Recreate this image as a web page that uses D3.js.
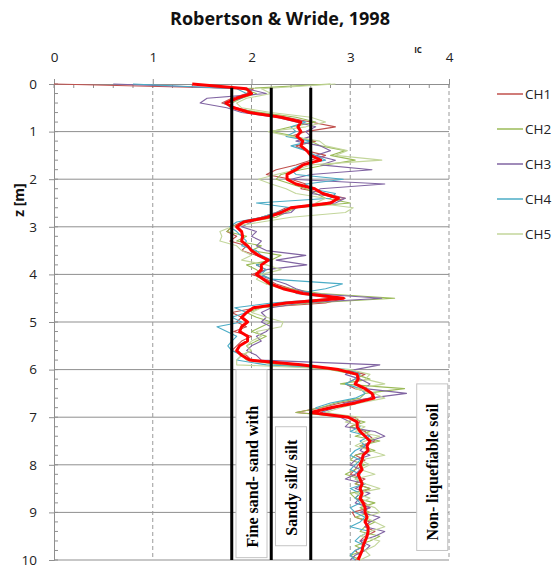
<!DOCTYPE html>
<html>
<head>
<meta charset="utf-8">
<script src="https://cdn.jsdelivr.net/npm/d3@7"></script>
<style>
  body { margin: 0; background: #fff; }
  svg { display: block; }
</style>
</head>
<body>
<svg id="chart" width="557" height="571"></svg>
<script>
// Sampling depths (m)
const depth = [
  0.0, 0.1, 0.2, 0.3, 0.4, 0.5, 0.6, 0.7, 0.8, 0.9,
  1.0, 1.1, 1.2, 1.3, 1.4, 1.5, 1.6, 1.7, 1.8, 1.9,
  2.0, 2.1, 2.2, 2.3, 2.4, 2.5, 2.6, 2.7, 2.8, 2.9,
  3.0, 3.1, 3.2, 3.3, 3.4, 3.5, 3.6, 3.7, 3.8, 3.9,
  4.0, 4.1, 4.2, 4.3, 4.4, 4.5, 4.6, 4.7, 4.8, 4.9,
  5.0, 5.1, 5.2, 5.3, 5.4, 5.5, 5.6, 5.7, 5.8, 5.9,
  6.0, 6.1, 6.2, 6.3, 6.4, 6.5, 6.6, 6.7, 6.8, 6.9,
  7.0, 7.1, 7.2, 7.3, 7.4, 7.5, 7.6, 7.7, 7.8, 7.9,
  8.0, 8.1, 8.2, 8.3, 8.4, 8.5, 8.6, 8.7, 8.8, 8.9,
  9.0, 9.1, 9.2, 9.3, 9.4, 9.5, 9.6, 9.7, 9.8, 9.9,
  10.0
];

// Soil behaviour type index Ic per CPT channel
const ch1 = [
  0.00, 2.02, 1.95, 1.80, 1.70, 1.85, 2.05, 2.35, 2.60, 2.85,
  2.55, 2.40, 2.65, 2.45, 2.55, 2.75, 2.60, 2.45, 2.25, 2.15,
  2.40, 2.55, 2.50, 2.75, 2.95, 2.75, 2.35, 2.25, 2.10, 1.90,
  1.80, 1.75, 1.85, 1.78, 1.95, 1.90, 2.05, 2.20, 2.05, 2.15,
  2.00, 2.15, 2.25, 2.40, 2.60, 2.95, 2.75, 2.05, 1.80, 1.90,
  1.85, 1.95, 1.82, 2.00, 1.90, 1.85, 1.80, 1.95, 2.00, 2.30,
  2.95, 3.15, 3.05, 2.95, 3.05, 3.25, 3.20, 2.90, 2.70, 2.45,
  3.05, 3.10, 3.00, 3.15, 3.20, 3.25, 3.10, 3.20, 3.05, 3.15,
  3.08, 3.05, 3.00, 3.15, 3.05, 3.20, 3.10, 3.05, 3.15, 3.20,
  3.02, 3.05, 3.20, 3.15, 3.25, 3.15, 3.10, 3.15, 3.05, 3.10,
  3.05
];
const ch2 = [
  2.80, 1.90, 2.05, 1.90, 1.80, 1.78, 2.10, 2.45, 2.65, 2.40,
  2.20, 2.45, 2.60, 2.70, 2.95, 2.80, 3.05, 2.75, 2.50, 2.30,
  2.25, 2.40, 2.55, 2.65, 2.75, 3.00, 2.45, 2.35, 2.25, 1.95,
  1.80, 1.75, 1.95, 1.85, 2.10, 2.00, 2.30, 2.20, 1.95, 2.05,
  2.10, 2.20, 2.15, 2.40, 2.70, 3.45, 2.60, 2.10, 1.95, 2.05,
  2.20, 2.10, 2.00, 2.15, 2.05, 1.95, 2.00, 1.90, 1.95, 2.30,
  2.80, 3.05, 3.20, 2.90, 3.55, 3.15, 3.10, 2.85, 2.70, 2.45,
  2.95, 3.15, 3.00, 3.20, 3.05, 3.30, 3.10, 3.25, 3.05, 3.00,
  3.15, 3.05, 2.95, 3.10, 3.05, 3.20, 3.00, 3.05, 3.25, 3.10,
  3.20, 3.05, 3.25, 3.15, 3.10, 3.30, 3.20, 3.05, 3.15, 3.00,
  3.10
];
const ch3 = [
  0.60, 1.95, 2.15, 1.55, 1.48, 1.75, 1.90, 2.25, 2.45, 2.65,
  2.55, 2.60, 2.45, 2.70, 2.80, 2.65, 2.85, 2.70, 3.22, 2.60,
  2.40, 3.35, 2.70, 2.60, 2.95, 2.85, 2.45, 2.40, 2.10, 2.00,
  1.90, 2.05, 2.00, 2.10, 2.05, 2.15, 2.55, 2.25, 2.56, 2.15,
  2.05, 2.20, 2.35, 2.45, 2.60, 3.32, 2.50, 2.20, 2.10, 2.15,
  2.10, 2.20, 2.15, 2.05, 2.10, 2.00, 1.95, 2.05, 2.10, 3.30,
  3.05, 2.95, 3.10, 3.20, 3.15, 3.57, 3.20, 2.95, 2.85, 2.70,
  2.90, 3.00, 2.95, 3.25, 3.35, 3.20, 3.15, 3.10, 3.20, 3.05,
  3.00, 3.10, 3.05, 2.95, 3.15, 3.05, 3.20, 3.10, 3.05, 3.20,
  3.10, 3.30, 3.20, 3.15, 3.35, 3.25, 3.10, 3.20, 3.15, 3.05,
  3.00
];
const ch4 = [
  0.80, 1.85, 1.95, 1.90, 1.72, 1.80, 2.00, 2.30, 2.55, 2.40,
  2.45, 2.35, 2.60, 2.40, 2.55, 2.65, 2.75, 2.50, 2.40, 2.45,
  2.93, 2.55, 2.60, 2.85, 2.80, 2.05, 2.40, 2.25, 2.10, 1.85,
  1.78, 1.85, 1.90, 1.95, 1.90, 2.05, 2.10, 2.20, 2.05, 2.15,
  2.10, 2.20, 2.92, 2.75, 2.45, 2.85, 2.20, 1.83, 1.95, 1.80,
  1.90, 1.65, 1.75, 1.85, 1.80, 1.76, 1.80, 1.90, 1.85, 2.15,
  3.00, 3.10, 3.05, 2.95, 3.10, 3.15, 3.05, 2.80, 2.65, 2.75,
  3.00, 3.05, 3.10, 3.00, 3.20, 3.10, 3.15, 3.05, 3.00, 3.10,
  3.05, 3.00, 3.10, 3.05, 3.15, 3.00, 3.10, 3.05, 3.10, 3.00,
  3.05, 3.15, 3.10, 3.00, 3.20, 3.10, 3.05, 3.15, 3.05, 3.00,
  3.05
];
const ch5 = [
  2.85, 2.10, 2.20, 1.95, 1.85, 1.90, 2.20, 2.60, 2.75, 2.55,
  2.17, 2.40, 2.69, 2.75, 2.97, 2.85, 3.32, 2.60, 2.45, 2.25,
  2.07, 2.20, 2.35, 2.45, 2.75, 2.65, 3.03, 2.95, 2.40, 2.10,
  1.80, 1.68, 1.70, 1.68, 1.85, 1.90, 2.00, 1.90, 2.15, 2.30,
  2.10, 2.05, 2.15, 2.30, 2.50, 2.90, 2.45, 2.10, 2.00, 2.15,
  2.32, 2.30, 2.05, 2.10, 2.00, 1.95, 2.00, 1.90, 1.85, 1.85,
  3.00, 3.20, 3.15, 3.35, 3.05, 3.25, 3.35, 3.10, 2.90, 2.75,
  3.10, 2.95, 3.15, 3.05, 3.30, 3.15, 3.05, 3.20, 3.35, 3.10,
  3.20, 3.10, 3.25, 3.05, 3.15, 3.30, 3.05, 3.20, 3.10, 3.25,
  3.30, 3.15, 3.25, 3.35, 3.20, 3.10, 3.30, 3.25, 3.15, 3.20,
  3.10
];
// Averaged profile (heavy red line)
const meanIc = [
  1.40, 1.95, 2.00, 1.85, 1.74, 1.82, 1.98, 2.30, 2.50, 2.47,
  2.50, 2.46, 2.52, 2.50, 2.56, 2.60, 2.70, 2.52, 2.45, 2.36,
  2.36, 2.45, 2.64, 2.72, 2.88, 2.80, 2.40, 2.30, 2.16, 1.92,
  1.85, 1.90, 1.91, 1.90, 1.96, 2.00, 2.07, 2.17, 2.10, 2.10,
  2.05, 2.12, 2.19, 2.32, 2.52, 2.93, 2.35, 2.02, 1.95, 1.90,
  1.96, 1.90, 1.88, 1.96, 1.96, 1.88, 1.85, 1.90, 1.98, 2.50,
  2.88, 3.07, 3.08, 3.05, 3.15, 3.22, 3.24, 3.05, 2.80, 2.60,
  2.98, 3.07, 3.07, 3.10, 3.15, 3.20, 3.17, 3.18, 3.13, 3.12,
  3.10, 3.12, 3.08, 3.10, 3.12, 3.10, 3.12, 3.10, 3.13, 3.15,
  3.15, 3.17, 3.15, 3.18, 3.18, 3.17, 3.15, 3.13, 3.12, 3.10,
  3.08
];

const seriesNames = ["CH1", "CH2", "CH3", "CH4", "CH5"];
const seriesValues = [ch1, ch2, ch3, ch4, ch5];
const seriesColors = ["#C0504D", "#9BBB59", "#8064A2", "#4BACC6", "#C3D69B"];

const xTicks = [0, 1, 2, 3, 4];
const yTicks = [0, 1, 2, 3, 4, 5, 6, 7, 8, 9, 10];

// Ic boundaries between soil behaviour zones
const zoneBounds = [1.8, 2.2, 2.6];
const zoneLabels = [
  { text: "Fine sand- sand with", ic: 2.0, z0: 6.0, z1: 9.95 },
  { text: "Sandy silt/ silt", ic: 2.4, z0: 7.2, z1: 9.7 },
  { text: "Non- liquefiable soil", ic: 3.83, z0: 6.3, z1: 9.8 }
];

const svg = d3.select("#chart");
const x = d3.scaleLinear().domain([0, 4]).range([54, 449]);
const y = d3.scaleLinear().domain([0, 10]).range([84, 560]);
const font = "'Open Sans', 'Liberation Sans', sans-serif";

// Title
svg.append("text")
  .attr("x", 280).attr("y", 25)
  .attr("text-anchor", "middle")
  .attr("font-family", font)
  .attr("font-weight", "bold")
  .attr("font-size", 18)
  .attr("fill", "#111")
  .text("Robertson & Wride, 1998");

// Horizontal gridlines
svg.append("g").selectAll("line")
  .data(yTicks.filter(d => d > 0))
  .join("line")
  .attr("x1", x(0)).attr("x2", x(4))
  .attr("y1", d => y(d)).attr("y2", d => y(d))
  .attr("stroke", "#8f8f8f").attr("stroke-width", 1);

// Vertical dashed gridlines
svg.append("g").selectAll("line")
  .data(xTicks.filter(d => d > 0))
  .join("line")
  .attr("x1", d => x(d)).attr("x2", d => x(d))
  .attr("y1", y(0)).attr("y2", y(10))
  .attr("stroke", "#9a9a9a").attr("stroke-width", 1)
  .attr("stroke-dasharray", "4,3");

// Minor ticks
const minorX = d3.range(0, 4.001, 0.2);
svg.append("g").selectAll("line")
  .data(minorX)
  .join("line")
  .attr("x1", d => x(d)).attr("x2", d => x(d))
  .attr("y1", y(0)).attr("y2", y(0) + 4)
  .attr("stroke", "#8f8f8f");
const minorY = d3.range(0, 10.001, 0.2);
svg.append("g").selectAll("line")
  .data(minorY)
  .join("line")
  .attr("x1", x(0)).attr("x2", x(0) + 4)
  .attr("y1", d => y(d)).attr("y2", d => y(d))
  .attr("stroke", "#8f8f8f");

// Axes
const topAxis = svg.append("g")
  .attr("transform", `translate(0,${y(0)})`)
  .call(d3.axisTop(x).tickValues(xTicks).tickSize(5).tickPadding(17).tickFormat(d3.format("d")));
const leftAxis = svg.append("g")
  .attr("transform", `translate(${x(0)},0)`)
  .call(d3.axisLeft(y).tickValues(yTicks).tickSize(5).tickPadding(12).tickFormat(d3.format("d")));
[topAxis, leftAxis].forEach(g => {
  g.select(".domain").attr("stroke", "#8f8f8f");
  g.selectAll(".tick line").attr("stroke", "#8f8f8f");
  g.selectAll(".tick text")
    .attr("font-family", font)
    .attr("font-size", 13.5)
    .attr("fill", "#222");
});

// Axis titles
svg.append("text")
  .attr("x", 418).attr("y", 53)
  .attr("text-anchor", "middle")
  .attr("font-family", font)
  .attr("font-size", 8)
  .attr("font-weight", "bold")
  .attr("fill", "#222")
  .text("IC");
svg.append("text")
  .attr("transform", "translate(24,200) rotate(-90)")
  .attr("text-anchor", "middle")
  .attr("font-family", font)
  .attr("font-size", 14)
  .attr("font-weight", "bold")
  .attr("fill", "#111")
  .text("z [m]");

// Channel profiles
const line = d3.line()
  .x(d => x(d[1]))
  .y(d => y(d[0]));
seriesValues.forEach((vals, i) => {
  svg.append("path")
    .datum(depth.map((z, k) => [z, vals[k]]))
    .attr("fill", "none")
    .attr("stroke", seriesColors[i])
    .attr("stroke-width", 1.1)
    .attr("stroke-linejoin", "round")
    .attr("d", line);
});
svg.append("path")
  .datum(depth.map((z, k) => [z, meanIc[k]]))
  .attr("fill", "none")
  .attr("stroke", "#ff0000")
  .attr("stroke-width", 3)
  .attr("stroke-linejoin", "round")
  .attr("d", line);

// Zone boundary lines
svg.append("g").selectAll("line")
  .data(zoneBounds)
  .join("line")
  .attr("x1", d => x(d)).attr("x2", d => x(d))
  .attr("y1", y(0.08)).attr("y2", y(10))
  .attr("stroke", "#000").attr("stroke-width", 3);

// Zone label boxes
const zoneG = svg.append("g").selectAll("g")
  .data(zoneLabels)
  .join("g");
zoneG.append("rect")
  .attr("x", d => x(d.ic) - 15.5)
  .attr("width", 31)
  .attr("y", d => y(d.z0))
  .attr("height", d => y(d.z1) - y(d.z0))
  .attr("fill", "#fff")
  .attr("stroke", "#c4c4c4");
zoneG.append("text")
  .attr("transform", d => `translate(${x(d.ic) + 6},${y(d.z1) - 10}) rotate(-90)`)
  .attr("text-anchor", "start")
  .attr("font-family", "'Liberation Serif', 'DejaVu Serif', serif")
  .attr("font-weight", "bold")
  .attr("font-size", 16)
  .attr("fill", "#000")
  .text(d => d.text);

// Legend
const legend = svg.append("g").selectAll("g")
  .data(seriesNames)
  .join("g")
  .attr("transform", (d, i) => `translate(497,${94 + i * 35})`);
legend.append("line")
  .attr("x1", 0).attr("x2", 26)
  .attr("stroke", (d, i) => seriesColors[i])
  .attr("stroke-width", 1.5);
legend.append("text")
  .attr("x", 28).attr("y", 5)
  .attr("font-family", font)
  .attr("font-size", 13.5)
  .attr("fill", "#222")
  .text(d => d);
</script>
</body>
</html>
